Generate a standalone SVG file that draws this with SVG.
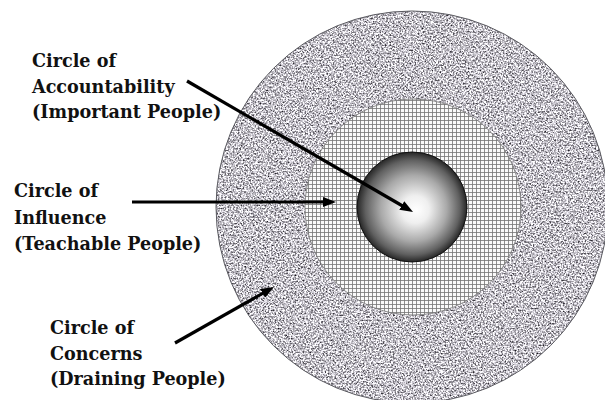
<svg xmlns="http://www.w3.org/2000/svg" width="605" height="400" viewBox="0 0 605 400">
  <style>
    .lbl { font-family: "DejaVu Serif", "Liberation Serif", serif; font-weight: bold; font-size: 17.6px; fill: #111; }
    .conn { stroke: #000; stroke-width: 3.2; fill: none; marker-end: url(#head); }
  </style>
  <defs>
    <filter id="granite" x="0" y="0" width="100%" height="100%" color-interpolation-filters="sRGB">
      <feTurbulence type="fractalNoise" baseFrequency="0.6" numOctaves="3" seed="7" result="n"/>
      <feColorMatrix in="n" type="matrix" values="1.75 0 0 0 -0.11  1.75 0 0 0 -0.12  1.75 0 0 0 -0.09  0 0 0 0 1" result="g"/>
      <feComposite in="g" in2="SourceGraphic" operator="in"/>
    </filter>
    <pattern id="grid" width="4" height="4" patternUnits="userSpaceOnUse">
      <rect width="4" height="4" fill="#fafafa"/>
      <path d="M0,0.5 H4 M0.5,0 V4" stroke="#747474" stroke-width="0.8"/>
    </pattern>
    <radialGradient id="sphere" cx="0.5" cy="0.5" r="0.5" fx="0.54" fy="0.53">
      <stop offset="0" stop-color="#ffffff"/>
      <stop offset="0.25" stop-color="#efefef"/>
      <stop offset="0.6" stop-color="#a9a9a9"/>
      <stop offset="0.86" stop-color="#606060"/>
      <stop offset="1" stop-color="#262626"/>
    </radialGradient>
    <marker id="head" viewBox="0 0 13 10" refX="5" refY="5" markerWidth="13" markerHeight="10" markerUnits="userSpaceOnUse" orient="auto">
      <path d="M0,0 L13,5 L0,10 z" fill="#000"/>
    </marker>
  </defs>
  <rect width="605" height="400" fill="#ffffff"/>

  <g id="circle-concerns">
    <circle cx="412" cy="207" r="196" fill="#a8a6ae" filter="url(#granite)"/>
    <circle cx="412" cy="207" r="196" fill="none" stroke="#5a5a60" stroke-width="1"/>
  </g>
  <g id="circle-influence">
    <circle cx="413" cy="207" r="108" fill="url(#grid)" stroke="#777" stroke-width="0.8"/>
  </g>
  <g id="circle-accountability">
    <circle cx="412" cy="207" r="55" fill="url(#sphere)" stroke="#111" stroke-width="1"/>
  </g>

  <g id="label-accountability">
    <text class="lbl" x="32" y="67">Circle of</text>
    <text class="lbl" x="32" y="93">Accountability</text>
    <text class="lbl" x="32" y="118">(Important People)</text>
  </g>
  <g id="label-influence">
    <text class="lbl" x="14" y="197">Circle of</text>
    <text class="lbl" x="14" y="224">Influence</text>
    <text class="lbl" x="14" y="250">(Teachable People)</text>
  </g>
  <g id="label-concerns">
    <text class="lbl" x="50" y="334">Circle of</text>
    <text class="lbl" x="50" y="360">Concerns</text>
    <text class="lbl" x="50" y="385">(Draining People)</text>
  </g>

  <g id="connectors">
    <line class="conn" x1="187" y1="81" x2="406.1" y2="208"/>
    <line class="conn" x1="132" y1="202" x2="328" y2="202"/>
    <line class="conn" x1="175" y1="343" x2="267" y2="290.9"/>
  </g>
</svg>
